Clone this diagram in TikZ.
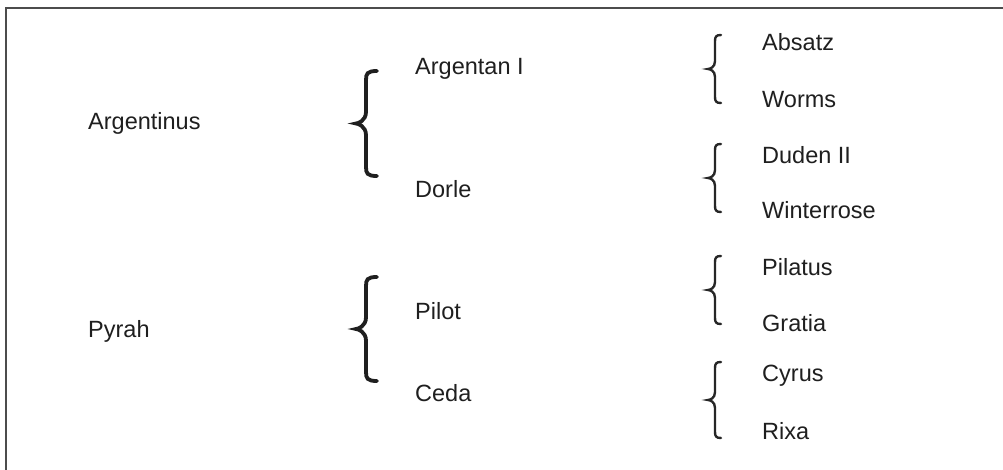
\documentclass[tikz,border=0pt]{standalone}
\usepackage{fontspec}
\setmainfont{Liberation Sans}
\tikzset{
  lbl/.style={anchor=base west, inner sep=0pt, font=\fontsize{23.5}{27}\selectfont, text=black!88},
  bigbr/.style={line width=3.8pt, black!88, line cap=round},
  smallbr/.style={line width=2.4pt, black!85, line cap=round},
  frameline/.style={line width=2pt, black!70}
}
% brace: [style] arm x, top y, bottom y, vertical x, tip x, radius
\newcommand{\mybrace}[7][]{%
  \pgfmathsetmacro{\ymid}{(#3+#4)/2}%
  \draw[#1] (#2,#3) .. controls (#5+1,#3) and (#5,#3+0.3*#7) .. (#5,#3+#7) -- (#5,\ymid-1.3*#7)
     .. controls (#5,\ymid-0.3*#7) and (#6+2,\ymid) .. (#6,\ymid)
     .. controls (#6+2,\ymid) and (#5,\ymid+0.3*#7) .. (#5,\ymid+1.3*#7) -- (#5,#4-#7)
     .. controls (#5,#4-0.3*#7) and (#5+1,#4) .. (#2,#4);}
\begin{document}
\begin{tikzpicture}[x=1pt,y=-1pt]
\useasboundingbox (0,0) rectangle (1003,470);
\fill[white] (0,0) rectangle (1003,470);
\draw[frameline] (6,470) -- (6,8) -- (1003,8);
% column 1
\node[lbl] (argentinus) at (88,130) {Argentinus};
\node[lbl] (pyrah) at (88,337) {Pyrah};
% column 2
\node[lbl] (argentan) at (415,75) {Argentan I};
\node[lbl] (dorle) at (415,198) {Dorle};
\node[lbl] (pilot) at (415,319) {Pilot};
\node[lbl] (ceda) at (415,401) {Ceda};
% column 3
\node[lbl] (absatz) at (762,51) {Absatz};
\node[lbl] (worms) at (762,108) {Worms};
\node[lbl] (duden) at (762,164) {Duden II};
\node[lbl] (winterrose) at (762,219) {Winterrose};
\node[lbl] (pilatus) at (762,276) {Pilatus};
\node[lbl] (gratia) at (762,331) {Gratia};
\node[lbl] (cyrus) at (762,381) {Cyrus};
\node[lbl] (rixa) at (762,439) {Rixa};
% big braces
\mybrace[bigbr]{377}{71}{176}{366}{356}{9}
\mybrace[bigbr]{377}{277}{381}{366}{356}{9}
% small braces
\mybrace[smallbr]{721}{35}{103}{715}{708}{6}
\mybrace[smallbr]{721}{144}{212}{715}{708}{6}
\mybrace[smallbr]{721}{256}{324}{715}{708}{6}
\mybrace[smallbr]{721}{362}{438}{715}{708}{6}
\end{tikzpicture}
\end{document}
